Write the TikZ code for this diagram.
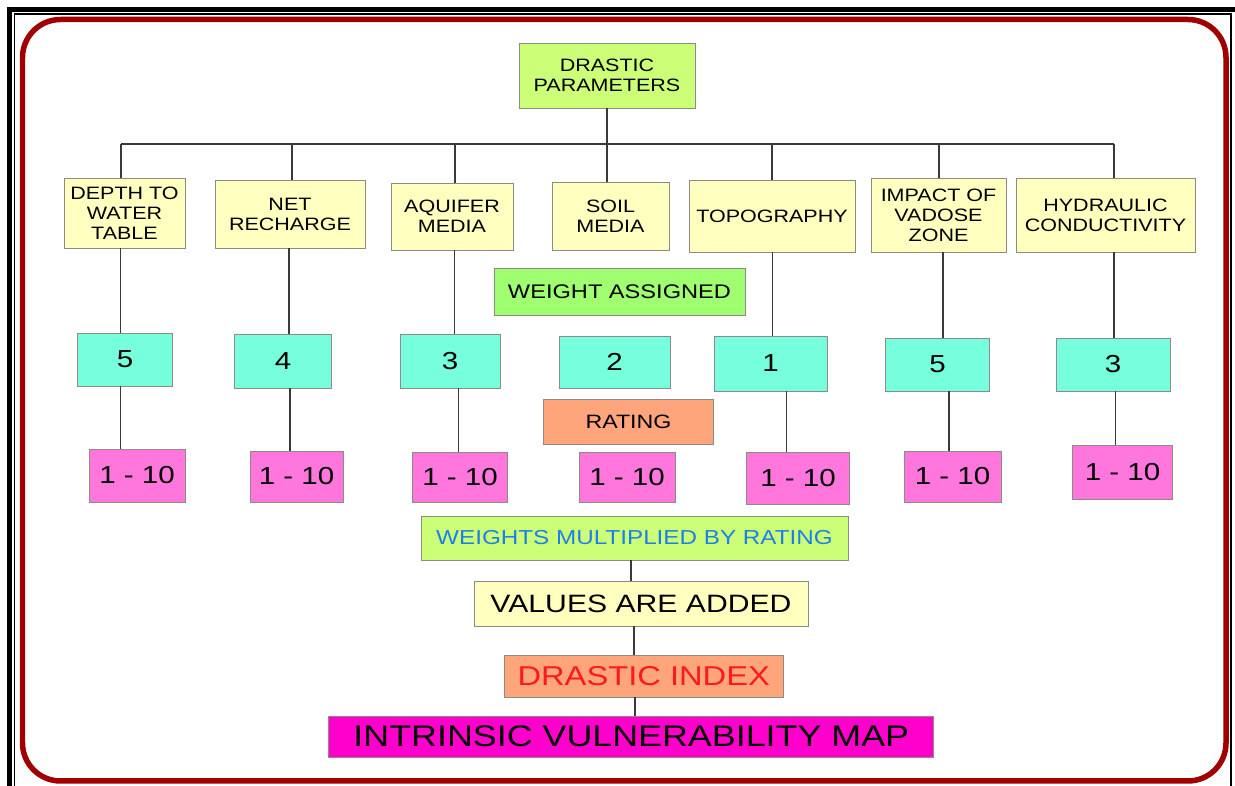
\documentclass[tikz,border=0pt]{standalone}
\usepackage{fontspec}
\setmainfont{Liberation Sans}[FakeStretch=1.2]
\definecolor{framered}{HTML}{A00000}
\definecolor{lime}{HTML}{CCFF77}
\definecolor{cream}{HTML}{FFFFC0}
\definecolor{grass}{HTML}{A0FF70}
\definecolor{aqua}{HTML}{77FFDD}
\definecolor{salmon}{HTML}{FFA57B}
\definecolor{pinkc}{HTML}{FF77DD}
\definecolor{magent}{HTML}{FF00CC}
\definecolor{edge}{HTML}{8C8C84}
\definecolor{wire}{HTML}{3A3A3A}
\definecolor{bluetxt}{HTML}{1E80E6}
\definecolor{redtxt}{HTML}{FF1A1A}
\tikzset{
  box/.style={draw=edge, line width=0.5pt, align=center, inner sep=1pt, font=\fontsize{10.2}{11.4}\selectfont},
  param/.style={box, fill=cream},
  wt/.style={box, fill=aqua, font=\fontsize{14}{16}\selectfont},
  rt/.style={box, fill=pinkc, font=\fontsize{14}{16}\selectfont},
  link/.style={draw=wire, line width=0.6pt},
}
\begin{document}
\begin{tikzpicture}[x=0.02cm, y=-0.02cm]
    \useasboundingbox (0,0) rectangle (1235,786);
    % frame
    \draw[line width=0.09cm] (9.5,786) -- (9.5,9.5) -- (1235,9.5);
    \draw[line width=0.04cm] (14.5,786) -- (14.5,14.5) -- (1231,14.5) -- (1231,786);
    \draw[framered, line width=0.11cm, rounded corners=0.76cm] (22.5,19.5) rectangle (1226,781);
    % top
    \node[box, fill=lime, minimum width=3.52cm, minimum height=1.30cm] (top) at (607,75.5) {DRASTIC\\PARAMETERS};
    % parameters
    \node[param, minimum width=2.42cm, minimum height=1.40cm] (depth)     at (124.5,213)  {DEPTH TO\\WATER\\TABLE};
    \node[param, minimum width=3.00cm, minimum height=1.36cm] (net)       at (290,214)    {NET\\RECHARGE};
    \node[param, minimum width=2.44cm, minimum height=1.34cm] (aquifer)   at (452,216.5)  {AQUIFER\\MEDIA};
    \node[param, minimum width=2.34cm, minimum height=1.36cm] (soil)      at (610.5,216)  {SOIL\\MEDIA};
    \node[param, minimum width=3.32cm, minimum height=1.44cm] (topo)      at (772,216)    {TOPOGRAPHY};
    \node[param, minimum width=2.70cm, minimum height=1.48cm] (vadose)    at (938.5,215)  {IMPACT OF\\VADOSE\\ZONE};
    \node[param, minimum width=3.58cm, minimum height=1.48cm] (hydraulic) at (1105.5,215) {HYDRAULIC\\CONDUCTIVITY};
    % weights
    \node[box, fill=grass, minimum width=5.02cm, minimum height=0.94cm, font=\fontsize{11.2}{13}\selectfont] (weightlbl) at (619.5,291.5) {WEIGHT ASSIGNED};
    \node[wt, minimum width=1.90cm, minimum height=1.06cm] (wgt1) at (125,359.5)  {5};
    \node[wt, minimum width=1.94cm, minimum height=1.08cm] (wgt2) at (283,361)    {4};
    \node[wt, minimum width=2.00cm, minimum height=1.08cm] (wgt3) at (450,361)    {3};
    \node[wt, minimum width=2.22cm, minimum height=1.04cm] (wgt4) at (614.5,362)  {2};
    \node[wt, minimum width=2.26cm, minimum height=1.10cm] (wgt5) at (770.5,363.5){1};
    \node[wt, minimum width=2.08cm, minimum height=1.06cm] (wgt6) at (937.5,364.5){5};
    \node[wt, minimum width=2.28cm, minimum height=1.06cm] (wgt7) at (1113,364.5) {3};
    % ratings
    \node[box, fill=salmon, minimum width=3.40cm, minimum height=0.90cm, font=\fontsize{11}{13}\selectfont] (ratinglbl) at (628.5,421.5) {RATING};
    \node[rt, minimum width=1.92cm, minimum height=1.06cm] (rate1) at (137,475.5)   {1 - 10};
    \node[rt, minimum width=1.86cm, minimum height=1.02cm] (rate2) at (296.5,476.5) {1 - 10};
    \node[rt, minimum width=1.90cm, minimum height=1.00cm] (rate3) at (460,477)     {1 - 10};
    \node[rt, minimum width=1.92cm, minimum height=1.00cm] (rate4) at (627,477)     {1 - 10};
    \node[rt, minimum width=2.05cm, minimum height=1.04cm] (rate5) at (798,478)     {1 - 10};
    \node[rt, minimum width=1.94cm, minimum height=1.02cm] (rate6) at (952.5,476.5) {1 - 10};
    \node[rt, minimum width=2.00cm, minimum height=1.08cm] (rate7) at (1122.5,472)  {1 - 10};
    % result chain
    \node[box, fill=lime, minimum width=8.54cm, minimum height=0.88cm, font=\fontsize{11.5}{13}\selectfont\color{bluetxt}] (product) at (634.5,538) {WEIGHTS MULTIPLIED BY RATING};
    \node[box, fill=cream, minimum width=6.68cm, minimum height=0.90cm, font=\fontsize{14.3}{16}\selectfont] (sum) at (641,603.5) {VALUES ARE ADDED};
    \node[box, fill=salmon, minimum width=5.57cm, minimum height=0.84cm, font=\fontsize{15.5}{17}\selectfont\color{redtxt}] (index) at (643.75,676) {DRASTIC INDEX};
    \node[box, fill=magent, minimum width=12.10cm, minimum height=0.82cm, font=\fontsize{17}{19}\selectfont] (map) at (631.3,736.5) {INTRINSIC VULNERABILITY MAP};
    % links
    \coordinate (busL) at (121,144);
    \coordinate (busR) at (1114,144);
    \draw[link] (busL) -- (busR);
    \draw[link] (top.south) -- (top.south |- soil.north);
    \foreach \n/\x in {depth/121, net/292, aquifer/455, topo/772, vadose/939, hydraulic/1114}
      \draw[link] (\x,0 |- busL) -- (\x,0 |- \n.north);
    \foreach \p/\k/\xa/\xb in {depth/1/120.5/120.5, net/2/289/290, aquifer/3/454.5/458.5, topo/5/772.5/786.5, vadose/6/943/949, hydraulic/7/1114/1115.5}{
      \draw[link] (\xa,0 |- \p.south) -- (\xa,0 |- wgt\k.north);
      \draw[link] (\xb,0 |- wgt\k.south) -- (\xb,0 |- rate\k.north);
    }
    \draw[link] (631,0 |- product.south) -- (631,0 |- sum.north);
    \draw[link] (634,0 |- sum.south) -- (634,0 |- index.north);
    \draw[link] (635,0 |- index.south) -- (635,0 |- map.north);
  \end{tikzpicture}
\end{document}
